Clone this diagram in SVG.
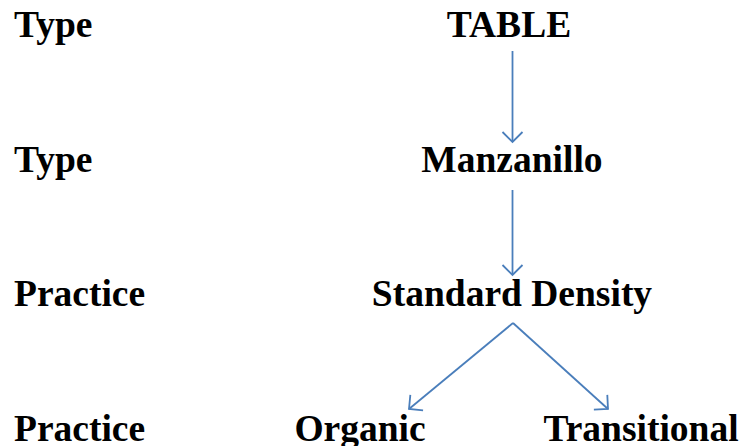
<svg xmlns="http://www.w3.org/2000/svg" width="743" height="446" viewBox="0 0 743 446">
<style>
text{font-family:"Liberation Serif","Times New Roman",serif;font-weight:bold;font-size:37.5px;fill:#000}
.c{text-anchor:middle}
.e{stroke:#4a7ebb;stroke-width:1.8;fill:none}
</style>
<defs>
<marker id="ah" markerWidth="16" markerHeight="24" refX="12" refY="12" orient="auto" markerUnits="userSpaceOnUse">
<path d="M2,2 L12,12 L2,22" stroke="#4a7ebb" stroke-width="1.8" fill="none"/>
</marker>
</defs>
<rect width="743" height="446" fill="#fff"/>
<g id="labels">
<text x="14" y="37">Type</text>
<text x="14" y="172">Type</text>
<text x="14" y="306">Practice</text>
<text x="14" y="441">Practice</text>
</g>
<g id="connectors">
<line class="e" x1="512.5" y1="51" x2="512.5" y2="142" marker-end="url(#ah)"/>
<line class="e" x1="512.5" y1="190" x2="512.5" y2="275" marker-end="url(#ah)"/>
<line class="e" x1="513" y1="323" x2="409" y2="409" marker-end="url(#ah)"/>
<line class="e" x1="513" y1="323" x2="608" y2="409" marker-end="url(#ah)"/>
</g>
<g id="table"><text class="c" x="509" y="37">TABLE</text></g>
<g id="manzanillo"><text class="c" x="512" y="172">Manzanillo</text></g>
<g id="standard"><text class="c" x="512" y="306">Standard Density</text></g>
<g id="organic"><text class="c" x="360" y="441">Organic</text></g>
<g id="transitional"><text class="c" x="641" y="441">Transitional</text></g>
</svg>
